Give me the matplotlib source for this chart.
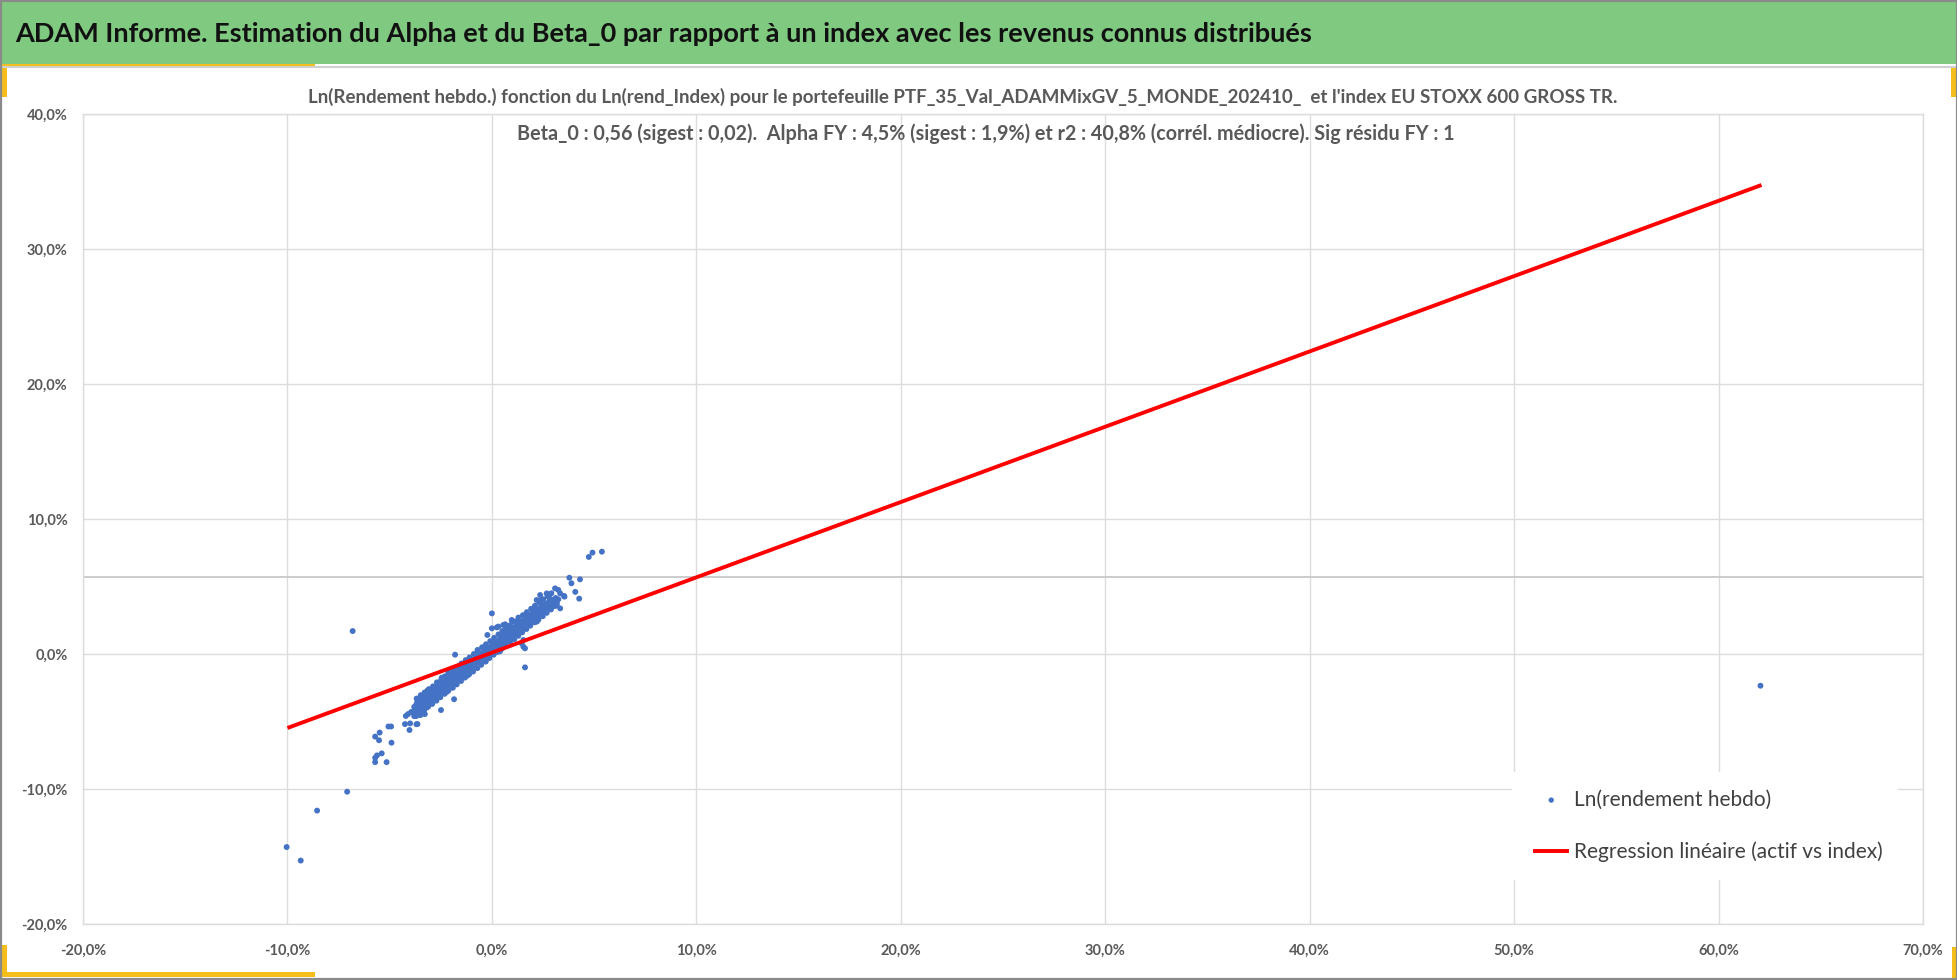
#!/usr/bin/env python3
"""ADAM Informe: weekly log-return of the portfolio vs its index, with the fitted line."""

import matplotlib

matplotlib.use("Agg")
import matplotlib.pyplot as plt
import numpy as np
from matplotlib.patches import Rectangle

plt.rcParams["font.family"] = ["Lato", "DejaVu Sans"]

W, H = 1958, 980

BANNER_TITLE = "ADAM Informe. Estimation du Alpha et du Beta_0 par rapport à un index avec les revenus connus distribués"
CHART_TITLE_1 = (
    "Ln(Rendement hebdo.) fonction du Ln(rend_Index) pour le portefeuille "
    "PTF_35_Val_ADAMMixGV_5_MONDE_202410_  et l'index EU STOXX 600 GROSS TR."
)
CHART_TITLE_2 = (
    "Beta_0 : 0,56 (sigest : 0,02).  Alpha FY : 4,5% (sigest : 1,9%) et r2 : 40,8% "
    "(corrél. médiocre). Sig résidu FY : 1"
)
SCATTER_LABEL = "Ln(rendement hebdo)"
LINE_LABEL = "Regression linéaire (actif vs index)"

X_TICKS = [-20, -10, 0, 10, 20, 30, 40, 50, 60, 70]
Y_TICKS = [-20, -10, 0, 10, 20, 30, 40]

# regression line end points (% units)
reg_x = [-10.0, 62.1]
reg_y = [-5.48, 34.74]

# extra horizontal reference line seen across the plot (% units)
ref_level = 5.7

# weekly points (index return %, portfolio return %)
outlier_points = [
    (-10.04, -14.30), (-9.35, -15.30), (-8.55, -11.60), (-7.08, -10.20),
    (-6.81, 1.70), (62.05, -2.35),
    (5.38, 7.58), (4.92, 7.51), (4.74, 7.19), (3.79, 5.65), (4.31, 5.53),
    (3.89, 5.24), (4.08, 4.60), (4.27, 4.10), (3.55, 4.25),
    (-5.71, -8.01), (-5.15, -8.01), (-5.62, -7.51), (-5.39, -7.36), (-5.71, -7.69),
    (-4.91, -6.57), (-5.71, -6.12), (-5.49, -5.82), (-5.52, -6.39),
    (-5.06, -5.37), (-4.93, -5.37),
    (-4.21, -4.59), (-4.25, -5.19), (-4.00, -5.14), (-4.03, -5.63), (-3.64, -5.19),
    (-3.59, -4.40), (-3.69, -5.20), (-3.50, -4.53), (-3.28, -4.45), (-3.18, -3.96),
    (-3.95, -4.30), (-4.10, -4.45), (-3.80, -4.60),
    (-2.49, -4.15), (-1.85, -3.35),
]

band_points = [
    (-3.86, -4.28), (-3.80, -3.92), (-3.74, -4.18), (-3.71, -3.78), (-3.66, -3.58),
    (-3.62, -4.08), (-3.57, -3.71), (-3.52, -4.02), (-3.49, -3.61), (-3.46, -3.38),
    (-3.41, -3.88), (-3.38, -3.55), (-3.35, -3.29), (-3.31, -3.81), (-3.27, -3.44),
    (-3.24, -3.18), (-3.21, -3.69), (-3.17, -3.32), (-3.14, -3.06), (-3.11, -3.57),
    (-3.08, -3.21), (-3.04, -2.94), (-3.01, -3.46), (-2.97, -3.09), (-2.94, -2.84),
    (-2.91, -3.31), (-2.88, -2.97), (-2.85, -2.71), (-2.81, -3.19), (-2.78, -2.86),
    (-2.74, -2.59), (-2.71, -3.06), (-2.68, -2.74), (-2.65, -2.47), (-2.61, -2.93),
    (-2.58, -2.61), (-2.55, -2.36), (-2.52, -2.82), (-2.48, -2.49), (-2.45, -2.21),
    (-2.42, -2.71), (-2.38, -2.38), (-2.35, -2.14), (-2.31, -2.59), (-2.28, -2.29),
    (-2.25, -2.02), (-2.21, -2.46), (-2.18, -2.16), (-2.14, -1.91), (-2.11, -2.35),
    (-2.08, -2.04), (-2.04, -1.79), (-2.01, -2.21), (-1.98, -1.92), (-1.94, -1.66),
    (-1.91, -2.09), (-1.88, -1.79), (-1.84, -1.55), (-1.81, -1.96), (-1.78, -1.69),
    (-1.74, -1.44), (-1.71, -1.84), (-1.68, -1.56), (-1.64, -1.31), (-1.61, -1.72),
    (-1.58, -1.44), (-1.54, -1.21), (-1.51, -1.61), (-1.48, -1.31), (-1.44, -1.09),
    (-1.41, -1.49), (-1.38, -1.21), (-1.34, -0.96), (-1.31, -1.36), (-1.28, -1.09),
    (-1.24, -0.84), (-1.21, -1.24), (-1.18, -0.96), (-1.14, -0.74), (-1.11, -1.11),
    (-1.08, -0.85), (-1.04, -0.61), (-1.01, -0.99),
    (-0.98, -0.74), (-0.95, -0.49), (-0.92, -0.88), (-0.88, -0.61), (-0.85, -0.37),
    (-0.82, -0.76), (-0.78, -0.50), (-0.75, -0.26), (-0.72, -0.66), (-0.68, -0.39),
    (-0.65, -0.15), (-0.62, -0.52), (-0.58, -0.27), (-0.55, -0.03), (-0.52, -0.41),
    (-0.48, -0.16), (-0.45, 0.08), (-0.42, -0.29), (-0.38, -0.04), (-0.35, 0.19),
    (-0.32, -0.17), (-0.28, 0.07), (-0.25, 0.31), (-0.22, -0.06), (-0.18, 0.19),
    (-0.15, 0.42), (-0.12, 0.06), (-0.08, 0.31), (-0.05, 0.54), (-0.02, 0.17),
    (0.02, 0.43), (0.05, 0.66), (0.08, 0.29), (0.12, 0.55), (0.15, 0.79),
    (0.18, 0.41), (0.22, 0.67), (0.25, 0.90), (0.28, 0.53), (0.32, 0.79),
    (0.35, 1.02), (0.38, 0.65), (0.42, 0.91), (0.45, 1.15), (0.48, 0.78),
    (0.52, 1.03), (0.55, 1.27), (0.58, 0.90), (0.62, 1.16), (0.65, 1.39),
    (0.68, 1.02), (0.72, 1.28), (0.75, 1.52), (0.78, 1.13), (0.82, 1.40),
    (0.85, 1.63), (0.88, 1.26), (0.92, 1.52), (0.95, 1.76), (0.98, 1.38),
    (1.02, 1.64), (1.05, 1.88), (1.08, 1.49), (1.12, 1.76), (1.15, 2.00),
    (1.18, 1.61), (1.22, 1.88), (1.25, 2.12), (1.28, 1.73), (1.32, 2.00),
    (1.35, 2.24), (1.38, 1.85), (1.42, 2.12), (1.45, 2.36), (1.48, 1.97),
    (1.52, 2.24), (1.55, 2.47), (1.58, 2.09), (1.62, 2.36), (1.65, 2.59),
    (1.68, 2.21), (1.72, 2.48), (1.75, 2.71), (1.78, 2.33), (1.82, 2.60),
    (1.85, 2.84), (1.88, 2.45), (1.92, 2.72), (1.95, 2.96), (1.98, 2.57),
    (2.02, 2.84), (2.06, 3.09), (2.10, 2.70), (2.14, 2.98), (2.18, 3.22),
    (2.22, 2.82), (2.26, 3.10), (2.30, 3.35), (2.34, 2.94), (2.38, 3.22),
    (2.42, 3.48), (2.46, 3.07), (2.50, 3.35), (2.54, 3.61), (2.58, 3.20),
    (2.62, 3.48), (2.66, 3.74), (2.70, 3.33), (2.75, 3.62), (2.80, 3.88),
    (2.85, 3.47), (2.90, 3.76), (2.95, 4.02), (3.00, 3.62), (3.06, 3.90),
    (3.12, 4.15), (3.18, 3.78), (3.25, 4.05),
]

# points on the outer edges of the dense band
edge_points = [
    (-3.70, -4.60), (-3.68, -3.30), (-3.52, -4.35), (-3.48, -3.05), (-3.31, -4.15),
    (-3.29, -2.85), (-3.12, -3.90), (-3.08, -2.60), (-2.92, -3.70), (-2.88, -2.40),
    (-2.71, -3.45), (-2.69, -2.10), (-2.52, -3.20), (-2.48, -1.90), (-2.31, -2.95),
    (-2.29, -1.65), (-2.12, -2.70), (-2.08, -1.40), (-1.91, -2.50), (-1.89, -1.15),
    (-1.72, -2.25), (-1.68, -0.95), (-1.51, -2.00), (-1.49, -0.70), (-1.32, -1.75),
    (-1.28, -0.45), (-1.11, -1.50), (-1.09, -0.25), (-0.92, -1.30), (-0.88, 0.00),
    (-0.71, -1.05), (-0.69, 0.25), (-0.52, -0.80), (-0.48, 0.50), (-0.31, -0.55),
    (-0.29, 0.72), (-0.12, -0.30), (-0.08, 0.95), (0.09, -0.05), (0.11, 1.20),
    (0.28, 0.15), (0.32, 1.45), (0.49, 0.40), (0.51, 1.70), (0.68, 0.65),
    (0.72, 1.92), (0.89, 0.90), (0.91, 2.15), (1.08, 1.15), (1.12, 2.40),
    (1.29, 1.35), (1.31, 2.65), (1.48, 1.60), (1.52, 2.88), (1.69, 1.85),
    (1.71, 3.10), (1.88, 2.10), (1.92, 3.35), (2.09, 2.35), (2.11, 3.58),
    (2.28, 2.55), (2.32, 3.82), (2.49, 2.80), (2.51, 4.05), (2.68, 3.05),
    (2.72, 4.28), (2.89, 3.30), (2.91, 4.50), (3.10, 3.55),
    (-3.60, -4.25), (-3.60, -3.40), (-3.20, -3.80), (-3.20, -2.95), (-2.80, -3.30),
    (-2.80, -2.45), (-2.40, -2.85), (-2.40, -2.00), (-2.00, -2.35), (-2.00, -1.50),
    (-1.60, -1.90), (-1.60, -1.05), (-1.20, -1.40), (-1.20, -0.55), (-0.80, -0.95),
    (-0.80, -0.10), (-0.40, -0.45), (-0.40, 0.40), (0.00, 0.00), (0.00, 0.88),
    (0.40, 0.50), (0.40, 1.35), (0.80, 0.98), (0.80, 1.82), (1.20, 1.45),
    (1.20, 2.30), (1.60, 1.93), (1.60, 2.78), (2.00, 2.40), (2.00, 3.25),
    (2.40, 2.88), (2.40, 3.72), (2.80, 3.35), (2.80, 4.20),
]

scattered_points = [
    (-3.15, -2.70), (-2.90, -3.60), (-2.20, -2.80), (-1.60, -0.90), (-1.20, -1.60),
    (-0.70, 0.30), (-0.30, -0.55), (0.40, 0.20), (0.70, 1.90), (1.10, 1.10),
    (1.30, 2.70), (1.54, 1.04), (1.62, 0.42), (1.46, 0.79), (1.54, 0.54),
    (1.62, -0.99), (2.20, 2.40), (2.40, 4.00), (2.19, 4.00), (2.36, 4.37),
    (2.68, 4.49), (3.09, 4.86), (3.25, 4.74), (3.34, 4.49), (3.53, 4.30),
    (3.17, 3.63), (3.34, 3.38), (2.93, 3.50), (-2.13, -1.38), (-2.45, -1.75),
    (-1.80, -0.05), (-0.22, 1.41), (0.00, 3.01), (0.00, 1.90), (0.24, 1.97),
    (0.56, 2.15), (0.97, 2.52), (0.32, 2.03), (0.65, 2.20),
]


def fx(px):
    return px / W


def fy(py):
    return 1 - py / H


def pct_label(v):
    return f"{v:.1f}%".replace(".", ",")


def main():
    pts = np.array(outlier_points + band_points + edge_points + scattered_points)
    index_ret, ptf_ret = pts[:, 0], pts[:, 1]

    fig = plt.figure(figsize=(W / 100, H / 100), dpi=100)
    fig.patch.set_facecolor("white")

    # banner and frame decorations
    fig.patches.append(Rectangle((0, fy(64)), 1, fy(2) - fy(64), transform=fig.transFigure,
                                 facecolor="#80C980", edgecolor="none", zorder=0))
    fig.add_artist(plt.Line2D([0, 1], [fy(67), fy(67)], transform=fig.transFigure,
                              color="#D0D0D0", lw=1.5))
    gold = "#F5BE1A"
    for x0, y0, x1, y1 in [(0, 64, 315, 68), (0, 64, 7, 97), (1951, 66, 1958, 97),
                           (0, 972, 315, 977), (0, 945, 7, 977), (1952, 947, 1958, 980)]:
        fig.patches.append(Rectangle((fx(x0), fy(y1)), fx(x1 - x0), fy(y0) - fy(y1),
                                     transform=fig.transFigure, facecolor=gold,
                                     edgecolor="none", zorder=1))
    fig.patches.append(Rectangle((0.0005, 0.001), 0.999, 0.998, transform=fig.transFigure,
                                 facecolor="none", edgecolor="#8A8A8A", lw=1.6, zorder=2))

    fig.text(fx(15), fy(34), BANNER_TITLE, fontsize=19.5, fontweight="bold",
             color="#111111", ha="left", va="center")
    fig.text(fx(963), fy(97), CHART_TITLE_1, fontsize=13.5, fontweight="bold",
             color="#595959", ha="center", va="center")
    fig.text(fx(986), fy(134), CHART_TITLE_2, fontsize=14.2, fontweight="bold",
             color="#595959", ha="center", va="center")

    ax = fig.add_axes([fx(83), fy(924), fx(1923 - 83), fy(114) - fy(924)])
    ax.set_xlim(-20, 70)
    ax.set_ylim(-20, 40)
    ax.set_xticks(X_TICKS)
    ax.set_yticks(Y_TICKS)
    ax.set_xticklabels([pct_label(v) for v in X_TICKS])
    ax.set_yticklabels([pct_label(v) for v in Y_TICKS])
    ax.tick_params(length=0, labelsize=10.5, labelcolor="#595959")
    ax.tick_params(axis="x", pad=14)
    ax.tick_params(axis="y", pad=11)
    for lab in ax.get_xticklabels() + ax.get_yticklabels():
        lab.set_fontweight("bold")
    ax.grid(True, color="#DCDCDC", lw=1.0)
    ax.set_axisbelow(True)
    for sp in ax.spines.values():
        sp.set_color("#DCDCDC")
        sp.set_linewidth(1.0)
    ax.axhline(ref_level, color="#C4C4C4", lw=1.2, zorder=1)

    ax.scatter(index_ret, ptf_ret, s=18, color="#4472C4", edgecolors="none",
               label=SCATTER_LABEL, zorder=3)
    ax.plot(reg_x, reg_y, color="#FF0000", lw=2.8, label=LINE_LABEL,
            solid_capstyle="butt", zorder=4)

    # white legend background that hides the grid
    ax.add_patch(Rectangle((0.7766, 0.0543), 0.2098, 0.1334, transform=ax.transAxes,
                           facecolor="white", edgecolor="none", zorder=5))
    leg = fig.legend(loc="center left", bbox_to_anchor=(fx(1533), fy(826)),
                     frameon=False, fontsize=15, handlelength=1.75, handletextpad=0.2,
                     labelspacing=1.55, borderpad=0, borderaxespad=0, markerscale=0.9,
                     labelcolor="#404040")
    leg.set_zorder(10)

    fig.savefig("out.png", dpi=100)


if __name__ == "__main__":
    main()
